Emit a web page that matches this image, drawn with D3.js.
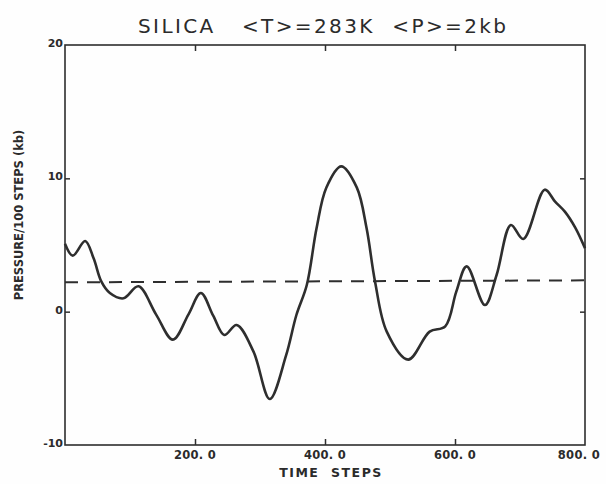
<!DOCTYPE html>
<html>
<head>
<meta charset="utf-8">
<script src="https://cdn.jsdelivr.net/npm/d3@7"></script>
<style>
  body { margin: 0; background: #fefefe; }
  text { fill: #2b2b2b; font-family: "DejaVu Sans", sans-serif; }
</style>
</head>
<body>
<div id="chart"></div>
<script>
// Chart values
var timeSteps = [0, 12, 31, 44, 56, 69, 90, 113, 140, 166, 190, 209, 228, 245, 264, 290, 315, 340, 356, 372, 387, 402, 425, 449, 464, 477, 495, 528, 561, 585, 602, 618, 646, 664, 686, 705, 738, 754, 769, 785, 800];
var pressure = [5.1, 4.2, 5.3, 4.0, 2.25, 1.4, 1.0, 1.9, -0.2, -2.1, -0.2, 1.4, -0.3, -1.75, -1.0, -3.0, -6.55, -3.3, -0.25, 2.0, 6.25, 9.3, 10.9, 9.3, 6.25, 2.25, -1.5, -3.6, -1.5, -1.1, 1.5, 3.4, 0.5, 2.75, 6.5, 5.45, 9.15, 8.25, 7.5, 6.3, 4.75];
var meanLine = [{ t: 0, p: 2.2 }, { t: 800, p: 2.35 }];
var xTicks = [200, 400, 600, 800];
var yTicks = [-10, 0, 10, 20];

var width = 606;
var height = 484;

var svg = d3
  .select("#chart")
  .append("svg")
  .attr("width", width)
  .attr("height", height);

var x = d3.scaleLinear().domain([0, 800]).range([65, 585]);
var y = d3.scaleLinear().domain([-10, 20]).range([445, 45]);

var ink = "#2e2e2e";

// frame
svg
  .append("rect")
  .attr("x", x(0))
  .attr("y", y(20))
  .attr("width", x(800) - x(0))
  .attr("height", y(-10) - y(20))
  .style("fill", "none")
  .style("stroke", ink)
  .style("stroke-width", 1.6);

// ticks pointing inward on all four sides
var bottomAxis = d3.axisBottom(x).tickValues([200, 400, 600]).tickSize(-6).tickFormat("");
var topAxis = d3.axisTop(x).tickValues([200, 400, 600]).tickSize(-6).tickFormat("");
var leftAxis = d3.axisLeft(y).tickValues([0, 10]).tickSize(-5).tickFormat("");
var rightAxis = d3.axisRight(y).tickValues([0, 10]).tickSize(-5).tickFormat("");

[
  [bottomAxis, "translate(0," + y(-10) + ")"],
  [topAxis, "translate(0," + y(20) + ")"],
  [leftAxis, "translate(" + x(0) + ",0)"],
  [rightAxis, "translate(" + x(800) + ",0)"]
].forEach(function (a) {
  var g = svg.append("g").attr("transform", a[1]).call(a[0]);
  g.select(".domain").remove();
  g.selectAll("line").style("stroke", ink).style("stroke-width", 1.5);
});

// tick labels
svg
  .selectAll(".xlab")
  .data(xTicks)
  .enter()
  .append("text")
  .attr("class", "xlab")
  .attr("x", function (d) { return d === 800 ? 600 : x(d); })
  .attr("y", y(-10) + 14)
  .attr("text-anchor", function (d) { return d === 800 ? "end" : "middle"; })
  .style("font-size", "11.5px")
  .style("font-weight", "bold")
  .style("letter-spacing", "0.3px")
  .text(function (d) { return d3.format(".1f")(d).replace(".", ". "); });

svg
  .selectAll(".ylab")
  .data(yTicks)
  .enter()
  .append("text")
  .attr("class", "ylab")
  .attr("x", x(0) - 2)
  .attr("y", function (d) { return y(d) + 2; })
  .attr("text-anchor", "end")
  .style("font-size", "11px")
  .style("font-weight", "bold")
  .text(function (d) { return d; });

// mean pressure (dashed)
var line = d3
  .line()
  .x(function (d) { return x(d.t); })
  .y(function (d) { return y(d.p); });

svg
  .append("path")
  .datum(meanLine)
  .attr("d", line)
  .style("fill", "none")
  .style("stroke", ink)
  .style("stroke-width", 2)
  .style("stroke-dasharray", "13,9");

// pressure curve
var curve = d3
  .line()
  .x(function (d, i) { return x(timeSteps[i]); })
  .y(function (d) { return y(d); })
  .curve(d3.curveCatmullRom.alpha(0.5));

svg
  .append("path")
  .datum(pressure)
  .attr("d", curve)
  .style("fill", "none")
  .style("stroke", ink)
  .style("stroke-width", 2.6);

// titles
svg
  .append("text")
  .attr("x", 322)
  .attr("y", 33)
  .attr("text-anchor", "middle")
  .attr("textLength", 368)
  .style("font-size", "20px")
  .style("white-space", "pre")
  .text("SILICA   <T>=283K  <P>=2kb");

svg
  .append("text")
  .attr("x", 331)
  .attr("y", 477)
  .attr("text-anchor", "middle")
  .style("font-size", "12.5px")
  .style("font-weight", "bold")
  .style("letter-spacing", "1.5px")
  .style("white-space", "pre")
  .text("TIME  STEPS");

svg
  .append("text")
  .attr("transform", "translate(23,215) rotate(-90)")
  .attr("text-anchor", "middle")
  .style("font-size", "11.5px")
  .style("font-weight", "bold")
  .style("white-space", "pre")
  .text("PRESSURE/100 STEPS (kb)");
</script>
</body>
</html>
